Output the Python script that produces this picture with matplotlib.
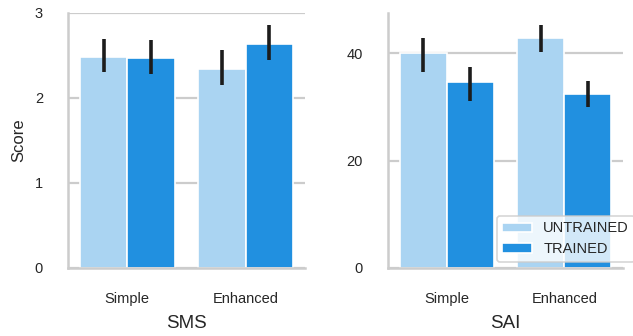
import numpy as np
import matplotlib.pyplot as plt

plt.rcParams['font.family'] = ['Liberation Sans', 'DejaVu Sans']
plt.rcParams['text.color'] = '#262626'
plt.rcParams['axes.labelcolor'] = '#262626'
plt.rcParams['xtick.color'] = '#262626'
plt.rcParams['ytick.color'] = '#262626'

# Data
groups = ['Simple', 'Enhanced']
conditions = ['UNTRAINED', 'TRAINED']
colors = ['#aad4f2', '#2190e0']

sms_mean = {'UNTRAINED': [2.48, 2.34], 'TRAINED': [2.47, 2.64]}
sms_low = {'UNTRAINED': [2.30, 2.15], 'TRAINED': [2.28, 2.45]}
sms_high = {'UNTRAINED': [2.69, 2.56], 'TRAINED': [2.68, 2.86]}

sai_mean = {'UNTRAINED': [40.1, 42.8], 'TRAINED': [34.6, 32.5]}
sai_low = {'UNTRAINED': [36.5, 40.2], 'TRAINED': [31.1, 30.0]}
sai_high = {'UNTRAINED': [42.9, 45.2], 'TRAINED': [37.4, 34.9]}

fig = plt.figure(figsize=(6.33, 3.36), dpi=100)
ax1 = fig.add_axes([0.1074, 0.2024, 0.3744, 0.759])
ax2 = fig.add_axes([0.613, 0.2024, 0.3713, 0.759])


def draw_panel(ax, mean, low, high, ylim, yticks, xlabel):
    x = np.arange(len(groups))
    for i, cond in enumerate(conditions):
        pos = x + (i - 0.5) * 0.4
        ax.bar(pos, mean[cond], width=0.4, color=colors[i],
               edgecolor='white', linewidth=1.2, label=cond, zorder=2)
        ax.vlines(pos, low[cond], high[cond], color='#1c1c1c',
                  linewidth=2.6, zorder=3)
    ax.set_xlim(-0.5, 1.5)
    ax.set_ylim(*ylim)
    ax.set_xticks(x)
    ax.set_xticklabels(groups)
    ax.set_yticks(yticks)
    ax.tick_params(axis='both', length=0, labelsize=10.5)
    ax.tick_params(axis='x', pad=17)
    ax.tick_params(axis='y', pad=18)
    ax.grid(axis='y', color='#cccccc', linewidth=1.6, zorder=0)
    ax.set_axisbelow(True)
    for side in ['top', 'right']:
        ax.spines[side].set_visible(False)
    for side in ['left', 'bottom']:
        ax.spines[side].set_color('#cccccc')
        ax.spines[side].set_linewidth(1.8)
    ax.set_xlabel(xlabel, fontsize=13.5, labelpad=7)


draw_panel(ax1, sms_mean, sms_low, sms_high, (0, 3), [0, 1, 2, 3], 'SMS')
ax1.set_ylabel('Score', fontsize=12, labelpad=6)

draw_panel(ax2, sai_mean, sai_low, sai_high, (0, 47.5), [0, 20, 40], 'SAI')
leg = ax2.legend(loc='lower left', bbox_to_anchor=(0.462, 0.024), fontsize=10.5,
                 frameon=True, framealpha=0.8, edgecolor='#cccccc',
                 handlelength=2.0, handleheight=0.6, borderpad=0.4,
                 labelspacing=0.45, borderaxespad=0)
leg.get_frame().set_linewidth(1.2)

plt.savefig('out.png', dpi=100)
